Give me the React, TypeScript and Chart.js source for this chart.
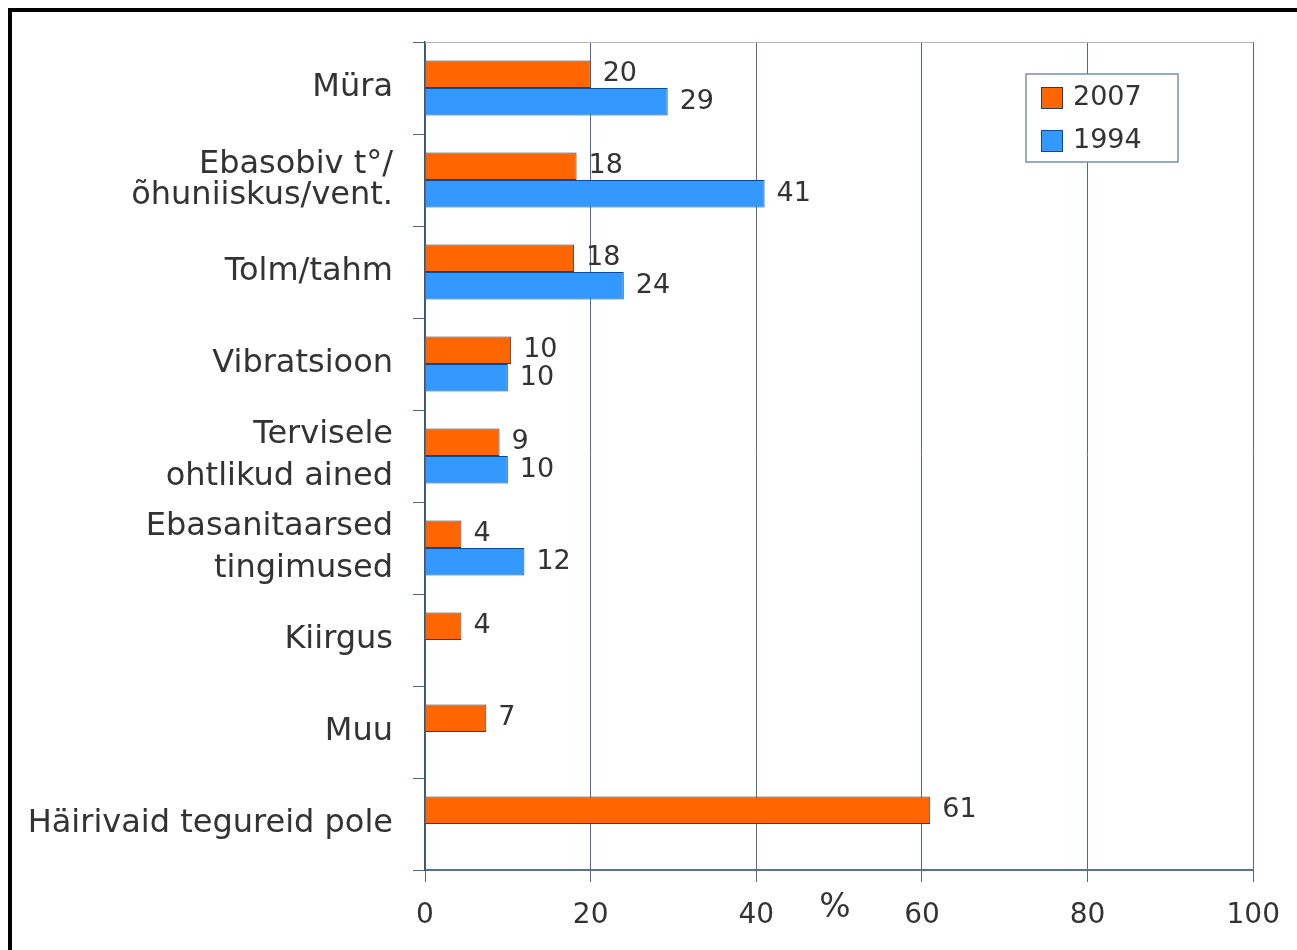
import React, { useEffect, useRef } from "react";
import { Chart, registerables } from "chart.js";

Chart.register(...registerables);

const categories: (string | string[])[] = [
  "Müra",
  ["Ebasobiv t°/", "õhuniiskus/vent."],
  "Tolm/tahm",
  "Vibratsioon",
  ["Tervisele", "ohtlikud ained"],
  ["Ebasanitaarsed", "tingimused"],
  "Kiirgus",
  "Muu",
  "Häirivaid tegureid pole",
];
const values2007: (number | null)[] = [20, 18.3, 18, 10.4, 9, 4.4, 4.4, 7.4, 61];
const values1994: (number | null)[] = [29.3, 41, 24, 10, 10, 12, null, null, null];
const seriesLabels = ["2007", "1994"];
const xTicks = [0, 20, 40, 60, 80, 100];
const axisTitle = "%";

const FONT = "'DejaVu Sans', Verdana, sans-serif";
const TEXT = "#333333";
const GRID = "#4f6a8e";

const dataLabels = {
  id: "dataLabels",
  afterDatasetsDraw(chart: any) {
    const ctx = chart.ctx;
    ctx.save();
    ctx.font = `27px ${FONT}`;
    ctx.fillStyle = TEXT;
    ctx.textAlign = "left";
    ctx.textBaseline = "middle";
    chart.data.datasets.forEach((ds: any, i: number) => {
      const meta = chart.getDatasetMeta(i);
      meta.data.forEach((el: any, j: number) => {
        const v = ds.data[j];
        if (v === null || v === undefined) return;
        ctx.fillText(String(Math.round(v)), el.x + 12, el.y);
      });
    });
    ctx.restore();
  },
};

const extras = {
  id: "extras",
  beforeDatasetsDraw(chart: any) {
    const { ctx, chartArea } = chart;
    ctx.save();
    ctx.strokeStyle = "#b4b4b4";
    ctx.lineWidth = 1;
    ctx.beginPath();
    ctx.moveTo(chartArea.left, chartArea.top + 0.5);
    ctx.lineTo(chartArea.right, chartArea.top + 0.5);
    ctx.stroke();
    ctx.restore();
  },
  afterDraw(chart: any) {
    const { ctx } = chart;
    const x = chart.scales.x;
    ctx.save();
    // axis title placed among tick labels
    ctx.font = `33px ${FONT}`;
    ctx.fillStyle = TEXT;
    ctx.textAlign = "center";
    ctx.textBaseline = "middle";
    ctx.fillText(axisTitle, x.getPixelForValue(49.5), 908);

    // legend box
    const bx = 1026, by = 74, bw = 152, bh = 88;
    ctx.fillStyle = "#ffffff";
    ctx.fillRect(bx, by, bw, bh);
    ctx.strokeStyle = "#7a90aa";
    ctx.lineWidth = 1.5;
    ctx.strokeRect(bx, by, bw, bh);
    chart.data.datasets.forEach((ds: any, i: number) => {
      const cy = 98 + i * 43;
      ctx.fillStyle = ds.backgroundColor;
      ctx.fillRect(1041, cy - 11, 22, 22);
      ctx.strokeStyle = ds.borderColor;
      ctx.lineWidth = 1;
      ctx.strokeRect(1041.5, cy - 10.5, 21, 21);
      ctx.fillStyle = TEXT;
      ctx.font = `27px ${FONT}`;
      ctx.textAlign = "left";
      ctx.textBaseline = "middle";
      ctx.fillText(ds.label, 1073, cy);
    });
    ctx.restore();
  },
};

export default function App() {
  const ref = useRef<HTMLCanvasElement>(null);
  useEffect(() => {
    if (!ref.current) return;
    const chart = new Chart(ref.current, {
      type: "bar",
      data: {
        labels: categories,
        datasets: [
          {
            label: seriesLabels[0],
            data: values2007,
            backgroundColor: "#ff6600",
            borderColor: "#2b3d5e",
            borderWidth: 1,
            categoryPercentage: 0.6,
            barPercentage: 1,
          },
          {
            label: seriesLabels[1],
            data: values1994,
            backgroundColor: "#3399ff",
            borderColor: "#0d4a96",
            borderWidth: 1,
            categoryPercentage: 0.6,
            barPercentage: 1,
          },
        ],
      },
      options: {
        indexAxis: "y",
        animation: false,
        responsive: false,
        maintainAspectRatio: false,
        layout: { padding: { left: 12, right: 42, top: 42, bottom: 0 } },
        plugins: { legend: { display: false }, tooltip: { enabled: false } },
        scales: {
          x: {
            min: 0,
            max: 100,
            afterBuildTicks(scale: any) {
              scale.ticks = xTicks.map((v) => ({ value: v }));
            },
            afterFit(scale: any) {
              scale.height = 80;
            },
            grid: {
              color: GRID,
              lineWidth: 1,
              tickLength: 12,
              drawTicks: true,
            },
            border: { color: "#5a7292", width: 2 },
            ticks: {
              font: { family: FONT, size: 28 },
              color: TEXT,
              padding: 17,
            },
          },
          y: {
            afterFit(scale: any) {
              scale.width = 413;
            },
            grid: {
              drawOnChartArea: false,
              drawTicks: true,
              tickLength: 12,
              color: GRID,
              offset: true,
            },
            border: { color: "#3b5577", width: 1.5 },
            ticks: {
              color: TEXT,
              padding: 20,
              font: (ctx: any) => ({
                family: FONT,
                size: 32,
                lineHeight: ctx.index === 1 ? 0.97 : 1.31,
              }),
            },
          },
        },
      },
      plugins: [dataLabels, extras],
    });
    return () => chart.destroy();
  }, []);

  return (
    <>
      <canvas
        ref={ref}
        width={1297}
        height={950}
        style={{ position: "absolute", left: 0, top: 0, width: 1297, height: 950 }}
      />
      <div
        style={{
          position: "absolute",
          left: 8,
          top: 8,
          width: 1289,
          height: 942,
          boxSizing: "border-box",
          borderTop: "4px solid #000",
          borderLeft: "4px solid #000",
          pointerEvents: "none",
        }}
      />
    </>
  );
}
